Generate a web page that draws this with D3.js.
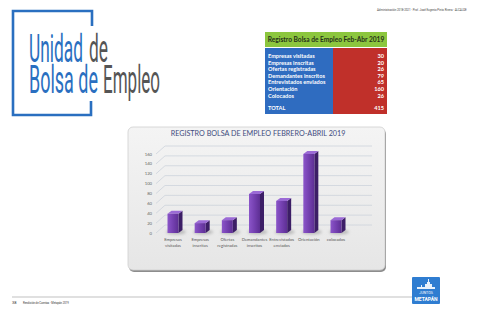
<!DOCTYPE html>
<html>
<head>
<meta charset="utf-8">
<script src="https://cdn.jsdelivr.net/npm/d3@7"></script>
<style>
  body { margin: 0; background: #fff; }
  svg { display: block; }
</style>
</head>
<body>
<svg id="page" width="480" height="314"></svg>
<script>
// table data (as printed on the page)
var tableLabels = ["Empresas visitadas", "Empresas inscritas", "Ofertas registradas",
  "Demandantes inscritos", "Entrevistados enviados", "Orientación", "Colocados"];
var tableValues = [30, 20, 26, 79, 65, 160, 26];
var tableTotal = 415;

// chart data
var categories = [["Empresas", "visitadas"], ["Empresas", "inscritas"], ["Ofertas", "registradas"],
  ["Demandantes", "inscritos"], ["Entrevistados", "enviados"], ["Orientación"], ["colocados"]];
var values = [39, 20, 26, 79, 65, 160, 26];
var yTicks = [0, 20, 40, 60, 80, 100, 120, 140, 160];

var svg = d3.select("#page");
var defs = svg.append("defs");

var blue = "#2a6fc0", grey = "#555";

// squeeze a text horizontally so it spans w pixels (condensed look)
function squeeze(t, x, y, w, anchorEnd) {
  var n = t.node().getComputedTextLength();
  var s = w / n;
  t.attr("x", null).attr("y", null)
    .attr("transform", "translate(" + (anchorEnd ? x - w : x) + "," + y + ") scale(" + s + ",1)");
}

// ---- logo bracket + title ----
svg.append("path")
  .attr("d", "M92,26 V11 H13 V115 H91 V101")
  .attr("fill", "none").attr("stroke", blue).attr("stroke-width", 2.6);

function word(txt, x, y, w, col) {
  var t = svg.append("text")
    .attr("font-family", "Roboto, sans-serif").attr("font-size", 39)
    .attr("fill", col).text(txt);
  squeeze(t, x, y, w);
}
word("Unidad", 29, 62, 54, blue);
word("de", 89, 62, 19, grey);
word("Bolsa de", 29, 93, 69, blue);
word("Empleo", 103, 93, 57, grey);

// ---- header line top right ----
var hd = svg.append("text")
  .attr("font-family", "Roboto, sans-serif").attr("font-size", 4).attr("fill", "#444")
  .text("Administración 2018-2021 · Prof. José Eugenio Pinto Rivera · ALCALDE");
squeeze(hd, 377, 11, 90);

// ---- summary table ----
var tx = 265, tw = 122, split = 333;
svg.append("rect").attr("x", tx).attr("y", 32).attr("width", tw).attr("height", 15)
  .attr("fill", "#8cc63e");
svg.append("text").attr("x", tx + tw / 2).attr("y", 42).attr("text-anchor", "middle")
  .attr("font-family", "Lato, sans-serif").attr("font-weight", "bold").attr("font-size", 6.6)
  .attr("fill", "#26301a").text("Registro Bolsa de Empleo Feb-Abr 2019");
svg.append("rect").attr("x", tx).attr("y", 48).attr("width", split - tx).attr("height", 66)
  .attr("fill", "#2f6cc0");
svg.append("rect").attr("x", split).attr("y", 48).attr("width", tx + tw - split).attr("height", 66)
  .attr("fill", "#c0302a");

var rowY = d3.scaleLinear().domain([0, 6]).range([58, 97.6]);
var rows = svg.append("g").attr("font-family", "Lato, sans-serif").attr("font-weight", "bold")
  .attr("font-size", 5.6).attr("fill", "#fff");
tableLabels.forEach(function (lab, i) {
  rows.append("text").attr("x", 268).attr("y", rowY(i)).text(lab);
  rows.append("text").attr("x", 384).attr("y", rowY(i)).attr("text-anchor", "end").text(tableValues[i]);
});
rows.append("text").attr("x", 268).attr("y", 110).text("TOTAL");
rows.append("text").attr("x", 384).attr("y", 110).attr("text-anchor", "end").text(tableTotal);

// ---- chart panel ----
var pg = defs.append("linearGradient").attr("id", "panel").attr("x1", 0).attr("y1", 0).attr("x2", 0).attr("y2", 1);
pg.append("stop").attr("offset", 0).attr("stop-color", "#f4f4f4");
pg.append("stop").attr("offset", 1).attr("stop-color", "#e6e6e6");

svg.append("rect").attr("x", 129).attr("y", 129).attr("width", 257).attr("height", 143).attr("rx", 5)
  .attr("fill", "#8d8d8d");
svg.append("rect").attr("x", 128).attr("y", 127).attr("width", 257).attr("height", 143).attr("rx", 5)
  .attr("fill", "url(#panel)").attr("stroke", "#cfcfcf").attr("stroke-width", 0.8);

svg.append("text").attr("x", 258).attr("y", 136).attr("text-anchor", "middle")
  .attr("font-family", "Lato, sans-serif").attr("font-size", 7.2).attr("fill", "#3d4b7d")
  .text("REGISTRO BOLSA DE EMPLEO FEBRERO-ABRIL 2019");

var y = d3.scaleLinear().domain([0, 160]).range([233, 154]);
var x = d3.scalePoint().domain(d3.range(values.length)).range([173, 336]);
var dx = 9, dy = -8;      // depth of the back wall
var x0 = 156, xEnd = 372;

// gridlines in fake perspective
var grid = svg.append("g").attr("fill", "none").attr("stroke", "#cdd3dc").attr("stroke-width", 0.8);
yTicks.forEach(function (t) {
  grid.append("path").attr("d", "M" + x0 + "," + y(t) + " L" + (x0 + dx) + "," + (y(t) + dy) + " H" + xEnd);
});
svg.append("g").attr("font-family", "Lato, sans-serif").attr("font-size", 4.2).attr("fill", "#666")
  .selectAll("text").data(yTicks).join("text")
  .attr("x", 152).attr("y", function (d) { return y(d) + 1.5; }).attr("text-anchor", "end")
  .text(function (d) { return d; });

// floor shadow
var sh = defs.append("filter").attr("id", "blur").attr("x", "-20%").attr("y", "-50%").attr("width", "140%").attr("height", "200%");
sh.append("feGaussianBlur").attr("stdDeviation", 1.6);
svg.append("g").attr("filter", "url(#blur)").selectAll("ellipse").data(values).join("ellipse")
  .attr("cx", function (d, i) { return x(i) + 3; }).attr("cy", 232)
  .attr("rx", 10).attr("ry", 2.4).attr("fill", "#b9b9b9");

// bars
var fg = defs.append("linearGradient").attr("id", "front");
fg.append("stop").attr("offset", 0).attr("stop-color", "#8b55c9");
fg.append("stop").attr("offset", 0.5).attr("stop-color", "#7440b0");
fg.append("stop").attr("offset", 1).attr("stop-color", "#5d2f93");

var bw = 11, bd = 4, bh = 3;
var bars = svg.append("g").selectAll("g").data(values).join("g");
bars.append("path").attr("fill", "#3c1e66")
  .attr("d", function (d, i) {
    var r = x(i) + bw / 2, t = y(d), b = y(0);
    return "M" + r + "," + t + " L" + (r + bd) + "," + (t - bh) + " V" + (b - bh) + " L" + r + "," + b + "Z";
  });
bars.append("path").attr("fill", "#9b6ad6")
  .attr("d", function (d, i) {
    var l = x(i) - bw / 2, r = x(i) + bw / 2, t = y(d);
    return "M" + l + "," + t + " L" + (l + bd) + "," + (t - bh) + " H" + (r + bd) + " L" + r + "," + t + "Z";
  });
bars.append("rect").attr("fill", "url(#front)")
  .attr("x", function (d, i) { return x(i) - bw / 2; })
  .attr("y", function (d) { return y(d); })
  .attr("width", bw)
  .attr("height", function (d) { return y(0) - y(d); });

// category labels
var cl = svg.append("g").attr("font-family", "Lato, sans-serif").attr("font-size", 4.2)
  .attr("fill", "#555").attr("text-anchor", "middle");
categories.forEach(function (c, i) {
  c.forEach(function (line, k) {
    cl.append("text").attr("x", x(i)).attr("y", 241 + k * 6).text(line);
  });
});

// ---- footer ----
svg.append("line").attr("x1", 12).attr("x2", 412).attr("y1", 297).attr("y2", 297)
  .attr("stroke", "#d6d6d6").attr("stroke-width", 1.4);
var ft = svg.append("g").attr("font-family", "Roboto, sans-serif").attr("font-size", 4).attr("fill", "#333");
ft.append("text").attr("x", 12).attr("y", 303.5).text("38");
var ftx = ft.append("text").text("Rendición de Cuentas · Metapán 2019");
squeeze(ftx, 23, 303.5, 46);

// small badge
var bx = 412, by = 277;
svg.append("rect").attr("x", bx).attr("y", by).attr("width", 28).attr("height", 27).attr("rx", 1)
  .attr("fill", "#2f7dd1");
svg.append("path").attr("fill", "#e8f1fb")
  .attr("d", "M" + (bx + 5) + "," + (by + 12) + " h18 v-2 h-3 v-3 h-2 v-2 h-1 v-3 h-1 v3 h-1 v2 h-2 v3 h-3 v-2 h-1 v2 h-4 Z");
svg.append("text").attr("x", bx + 14).attr("y", by + 17).attr("text-anchor", "middle")
  .attr("font-family", "Roboto, sans-serif").attr("font-size", 3.6).attr("fill", "#fff").text("JUNTOS");
svg.append("text").attr("x", bx + 14).attr("y", by + 24).attr("text-anchor", "middle")
  .attr("font-family", "Roboto, sans-serif").attr("font-weight", "bold").attr("font-size", 5)
  .attr("fill", "#fff").text("METAPÁN");
</script>
</body>
</html>
